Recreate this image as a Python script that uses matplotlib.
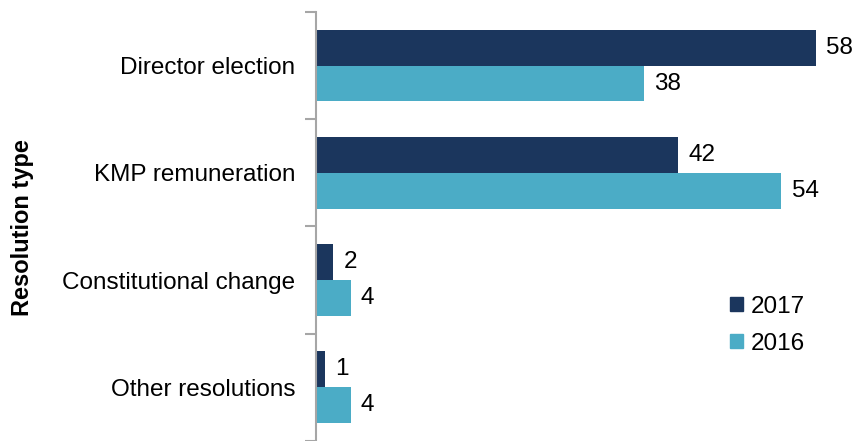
import numpy as np
import matplotlib.pyplot as plt
from matplotlib.patches import Patch

plt.rcParams['font.family'] = ['Liberation Sans', 'DejaVu Sans']

categories = ["Director election", "KMP remuneration", "Constitutional change", "Other resolutions"]
vals_2017 = [58, 42, 2, 1]
vals_2016 = [38, 54, 4, 4]

c2017 = "#1b365d"
c2016 = "#4bacc6"
fs = 17.5

fig = plt.figure(figsize=(8.59, 4.41), dpi=100)
ax = fig.add_axes([0.368, 0.0, 0.632, 0.973])

y = np.arange(len(categories))
h = 0.335
ax.barh(y - h / 2, vals_2017, height=h, color=c2017)
ax.barh(y + h / 2, vals_2016, height=h, color=c2016)

for yi, v in zip(y, vals_2017):
    ax.text(v + 1.2, yi - h / 2, str(v), va="center", ha="left", fontsize=fs)
for yi, v in zip(y, vals_2016):
    ax.text(v + 1.2, yi + h / 2, str(v), va="center", ha="left", fontsize=fs)

ax.set_xlim(0, 63)
ax.set_ylim(len(categories) - 0.5, -0.5)
ax.set_xticks([])
ax.set_yticks(y)
ax.set_yticklabels(categories, fontsize=fs)
ax.tick_params(axis="y", which="major", length=0, pad=15)
ax.set_yticks(np.arange(len(categories) + 1) - 0.5, minor=True)
ax.tick_params(axis="y", which="minor", length=8, color="#a6a6a6", width=1.5)

for s in ["top", "right", "bottom"]:
    ax.spines[s].set_visible(False)
ax.spines["left"].set_color("#a6a6a6")
ax.spines["left"].set_linewidth(1.5)

fig.text(0.026, 0.483, "Resolution type", rotation=90, fontsize=17,
         fontweight="bold", va="center", ha="center")

handles = [Patch(color=c2017, label="2017"), Patch(color=c2016, label="2016")]
ax.legend(handles=handles, loc="upper left", bbox_to_anchor=(0.74, 0.367),
          frameon=False, fontsize=fs, handlelength=0.55, handleheight=0.55,
          handletextpad=0.3, labelspacing=0.62, borderpad=0)

fig.savefig("out.png", dpi=100)
